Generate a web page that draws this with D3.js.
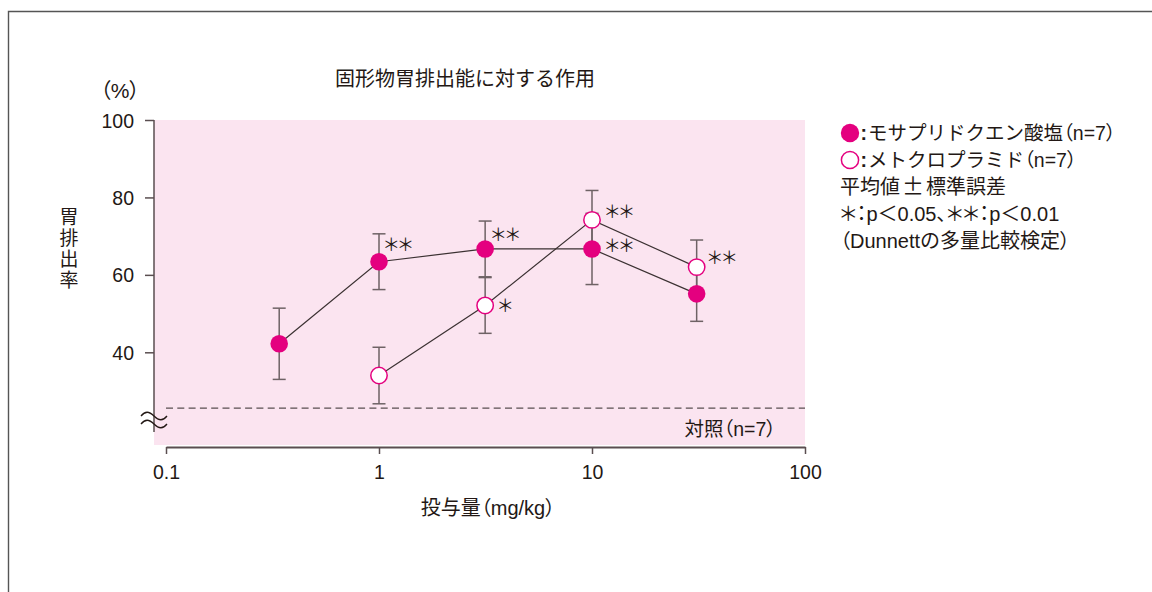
<!DOCTYPE html>
<html lang="ja">
<head>
<meta charset="utf-8">
<script src="https://cdn.jsdelivr.net/npm/d3@7"></script>
<style>
  html, body { margin: 0; padding: 0; background: #fff; }
  svg { display: block; }
  text { font-family: "Liberation Sans", "Noto Sans CJK JP", sans-serif; fill: #231815; }
  .palt { font-feature-settings: "palt" 1; }
</style>
</head>
<body>
<svg id="chart" width="1152" height="592"></svg>
<script>
// Doses (mg/kg) and gastric emptying rate (%), mean ± SE
const mosaprideDose = [0.34, 1, 3.15, 10, 31];
const mosaprideMean = [42.2, 63.4, 66.7, 66.7, 55.1];
const mosaprideSE   = [9.2, 7.2, 7.2, 9.2, 7.1];
const mosaprideSig  = ["", "＊＊", "＊＊", "＊＊", ""];

const metoDose = [1, 3.15, 10, 31];
const metoMean = [34.0, 52.1, 74.2, 62.0];
const metoSE   = [7.3, 7.2, 7.6, 7.0];
const metoSig  = ["", "＊", "＊＊", "＊＊"];

const controlLevel = 25.6;          // drawn below the axis break
const xTicks = [0.1, 1, 10, 100];
const yTicks = [40, 60, 80, 100];

const legendSeries = ["モサプリドクエン酸塩（n=7）", "メトクロプラミド（n=7）"];
const legendNotes = [
  "平均値±標準誤差",
  "＊：p＜0.05、＊＊：p＜0.01",
  "（Dunnettの多量比較検定）"
];

// placement of significance marks next to each point (dx, dy in px)
const mosaprideSigOffset = [null, [5, -17], [6, -14], [13, -3], null];
const metoSigOffset = [null, [13, 0], [13, -8], [11, -9]];

const MAGENTA = "#e4007f";
const PINK = "#fbe4f0";
const AXIS = "#5a4e50";
const BAR = "#6e6265";
const LINE = "#3b3132";

const svg = d3.select("#chart");

// write a string into a text element, setting brackets proportionally
function writeRuns(sel, str) {
  const parts = str.split(/([（）])/).filter(s => s.length);
  parts.forEach(s => {
    const t = sel.append("tspan").text(s);
    if (s === "（" || s === "）") t.attr("class", "palt").attr("font-family", "Noto Sans CJK JP");
  });
  return sel;
}

const x = d3.scaleLog().domain([0.1, 100]).range([166, 805]);
const y = d3.scaleLinear().domain([40, 100]).range([352.3, 120]);
const axisBottomY = 447;
const yAxisX = 154;

// outer frame
svg.append("path")
  .attr("d", "M8.5,592V11.5H1152")
  .attr("fill", "none").attr("stroke", "#555").attr("stroke-width", 1.4);

// plot background
svg.append("rect")
  .attr("x", yAxisX).attr("y", y(100))
  .attr("width", x(100) - yAxisX).attr("height", axisBottomY - 2 - y(100))
  .attr("fill", PINK);

// control level
svg.append("line")
  .attr("x1", x(0.1)).attr("x2", x(100))
  .attr("y1", y(controlLevel)).attr("y2", y(controlLevel))
  .attr("stroke", AXIS).attr("stroke-width", 1.2)
  .attr("stroke-dasharray", "7,4.3");

// y axis
const yAxis = svg.append("g")
  .attr("transform", `translate(${yAxisX},0)`)
  .call(d3.axisLeft(y).tickValues(yTicks).tickSize(9).tickSizeOuter(0).tickPadding(11));
yAxis.select(".domain").remove();
yAxis.append("line")
  .attr("x1", 0).attr("x2", 0).attr("y1", y(100)).attr("y2", 432)
  .attr("stroke", AXIS).attr("stroke-width", 1.5);
yAxis.selectAll(".tick line").attr("stroke", AXIS).attr("stroke-width", 1.5);
yAxis.selectAll(".tick text")
  .attr("font-size", 19.5).attr("font-family", "Liberation Sans").attr("fill", "#231815")
  .attr("dy", "0.36em");

// axis break mark
const breakG = svg.append("g").attr("fill", "none").attr("stroke", "#231815").attr("stroke-width", 1.3);
[415, 423].forEach(by => {
  breakG.append("path")
    .attr("d", `M${yAxisX - 13},${by + 1} c4,-5 8,-5 13,0 s9,5 13,0`);
});

// x axis
const xAxis = svg.append("g")
  .attr("transform", `translate(0,${axisBottomY})`)
  .call(d3.axisBottom(x).tickValues(xTicks).tickSize(7).tickSizeOuter(0).tickPadding(11)
    .tickFormat(d => String(d)));
xAxis.select(".domain").attr("stroke", AXIS).attr("stroke-width", 1.8);
xAxis.selectAll(".tick line").attr("stroke", AXIS).attr("stroke-width", 1.5);
xAxis.selectAll(".tick text")
  .attr("font-size", 19.5).attr("font-family", "Liberation Sans").attr("fill", "#231815");

// series: error bars first, then connecting lines, then markers
function seriesPoints(doses, means, ses) {
  return doses.map((d, i) => ({ d, m: means[i], s: ses[i] }));
}
const mosaPts = seriesPoints(mosaprideDose, mosaprideMean, mosaprideSE);
const metoPts = seriesPoints(metoDose, metoMean, metoSE);

const bars = svg.append("g").attr("stroke", BAR).attr("stroke-width", 1.5);
[mosaPts, metoPts].forEach(pts => {
  pts.forEach(p => {
    const cx = x(p.d);
    bars.append("line").attr("x1", cx).attr("x2", cx)
      .attr("y1", y(p.m + p.s)).attr("y2", y(p.m - p.s));
    [p.m + p.s, p.m - p.s].forEach(v => {
      bars.append("line").attr("x1", cx - 6.5).attr("x2", cx + 6.5)
        .attr("y1", y(v)).attr("y2", y(v));
    });
  });
});

const line = d3.line().x(p => x(p.d)).y(p => y(p.m));
[mosaPts, metoPts].forEach(pts => {
  svg.append("path").attr("d", line(pts))
    .attr("fill", "none").attr("stroke", LINE).attr("stroke-width", 1.2);
});

svg.append("g").selectAll("circle").data(metoPts).join("circle")
  .attr("cx", p => x(p.d)).attr("cy", p => y(p.m)).attr("r", 8.2)
  .attr("fill", "#fff").attr("stroke", MAGENTA).attr("stroke-width", 1.5);
svg.append("g").selectAll("circle").data(mosaPts).join("circle")
  .attr("cx", p => x(p.d)).attr("cy", p => y(p.m)).attr("r", 8.8)
  .attr("fill", MAGENTA);

// significance marks
function drawSig(doses, means, sig, offs) {
  doses.forEach((d, i) => {
    if (!sig[i]) return;
    svg.append("text").attr("class", "palt")
      .attr("x", x(d) + offs[i][0]).attr("y", y(means[i]) + offs[i][1])
      .attr("dy", "0.36em")
      .attr("font-family", "Noto Sans CJK JP")
      .attr("font-size", 17.5)
      .text(sig[i]);
  });
}
drawSig(mosaprideDose, mosaprideMean, mosaprideSig, mosaprideSigOffset);
drawSig(metoDose, metoMean, metoSig, metoSigOffset);

// control label
writeRuns(svg.append("text")
  .attr("x", 776).attr("y", 436).attr("text-anchor", "end")
  .attr("font-size", 19.5), "対照（n=7）");

// titles
svg.append("text")
  .attr("x", 465).attr("y", 86).attr("text-anchor", "middle")
  .attr("font-size", 20).text("固形物胃排出能に対する作用");

writeRuns(svg.append("text")
  .attr("x", 120).attr("y", 98).attr("text-anchor", "middle")
  .attr("font-size", 21), "（%）");

const yl = svg.append("text").attr("font-size", 19).attr("text-anchor", "middle");
Array.from("胃排出率").forEach((ch, i) => {
  yl.append("tspan").attr("x", 69).attr("y", 224 + i * 21).text(ch);
});

writeRuns(svg.append("text")
  .attr("x", 488).attr("y", 515).attr("text-anchor", "middle")
  .attr("font-size", 20), "投与量（mg/kg）");

// legend
const lg = svg.append("g");
lg.append("circle").attr("cx", 850).attr("cy", 133).attr("r", 9.2).attr("fill", MAGENTA);
lg.append("circle").attr("cx", 850).attr("cy", 160).attr("r", 8.6)
  .attr("fill", "#fff").attr("stroke", MAGENTA).attr("stroke-width", 1.5);
legendSeries.forEach((t, i) => {
  const ty = 133 + i * 27;
  lg.append("text").attr("x", 860.5).attr("y", ty).attr("dy", "0.36em")
    .attr("font-size", 19.5).attr("font-weight", "bold").text(":");
  writeRuns(lg.append("text").attr("x", 868).attr("y", ty).attr("dy", "0.36em")
    .attr("font-size", 19.5), t);
});
legendNotes.forEach((t, i) => {
  const tx = lg.append("text")
    .attr("x", 840).attr("y", 133 + (i + 2) * 27).attr("dy", "0.36em")
    .attr("font-size", 20);
  if (i === 1) {
    tx.attr("class", "palt").text(t);
  } else if (i === 0) {
    const [a, b] = t.split("±");
    tx.append("tspan").text(a);
    tx.append("tspan").attr("dx", 2).attr("font-family", "Noto Sans CJK JP").attr("font-size", 22).text("±");
    tx.append("tspan").attr("dx", 2).text(b);
  } else {
    writeRuns(tx, t);
  }
});
</script>
</body>
</html>
